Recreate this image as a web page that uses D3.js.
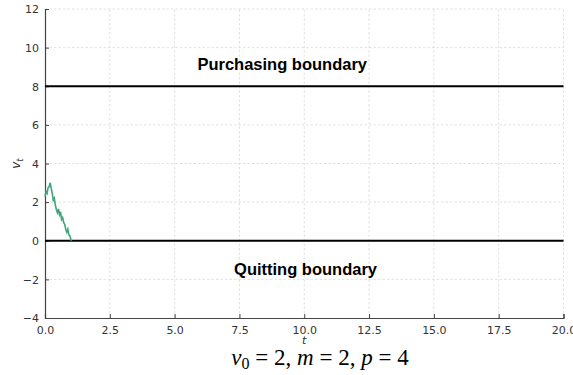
<!DOCTYPE html>
<html>
<head>
<meta charset="utf-8">
<script src="https://cdn.jsdelivr.net/npm/d3@7"></script>
<style>
  body { margin: 0; background: #fff; }
  svg { display: block; }
</style>
</head>
<body>
<div id="chart"></div>
<script>
// sample path of v_t
var pathT = [0, 0.04, 0.08, 0.12, 0.16, 0.2, 0.24, 0.28, 0.32, 0.36, 0.4, 0.44, 0.48,
             0.52, 0.56, 0.6, 0.64, 0.68, 0.72, 0.76, 0.8, 0.84, 0.88, 0.92, 0.96, 1.0, 1.02];
var pathV = [2.3, 2.55, 2.45, 2.75, 2.8, 3.0, 2.7, 2.45, 2.1, 2.2, 1.85, 1.6, 1.45,
             1.65, 1.35, 1.5, 1.1, 1.2, 0.95, 0.85, 0.6, 0.45, 0.6, 0.3, 0.25, 0.05, 0.0];

var boundaryNames = ['Purchasing boundary', 'Quitting boundary'];
var boundaryValues = [8, 0];

var xTicks = [0, 2.5, 5, 7.5, 10, 12.5, 15, 17.5, 20];
var yTicks = [-4, -2, 0, 2, 4, 6, 8, 10, 12];

var width = 573, height = 375;
var margin = { top: 9, right: 9.5, bottom: 57, left: 45 };

var svg = d3.select('#chart')
  .append('svg')
    .attr('width', width)
    .attr('height', height);

var x = d3.scaleLinear()
  .domain([0, 20])
  .range([margin.left, width - margin.right]);

var y = d3.scaleLinear()
  .domain([-4, 12])
  .range([height - margin.bottom, margin.top]);

// grid
var grid = svg.append('g');
grid.selectAll('line.gx')
  .data(xTicks.slice(1))
  .enter().append('line')
    .attr('x1', function(d) { return x(d); })
    .attr('x2', function(d) { return x(d); })
    .attr('y1', y(-4))
    .attr('y2', y(12))
    .attr('stroke', '#d9d9d9')
    .attr('stroke-width', 0.8)
    .attr('stroke-dasharray', '2.5,2');
grid.selectAll('line.gy')
  .data(yTicks.slice(1))
  .enter().append('line')
    .attr('x1', x(0))
    .attr('x2', x(20))
    .attr('y1', function(d) { return y(d); })
    .attr('y2', function(d) { return y(d); })
    .attr('stroke', '#d9d9d9')
    .attr('stroke-width', 0.8)
    .attr('stroke-dasharray', '2.5,2');

// axes
var xAxis = d3.axisBottom(x)
  .tickValues(xTicks)
  .tickSize(-4)
  .tickPadding(6)
  .tickFormat(d3.format('.1f'));
var yAxis = d3.axisLeft(y)
  .tickValues(yTicks)
  .tickSize(-4)
  .tickPadding(6)
  .tickFormat(function(d) { return d < 0 ? '\u2212' + Math.abs(d) : d; });

var gx = svg.append('g')
  .attr('transform', 'translate(0,' + y(-4) + ')')
  .call(xAxis);
var gy = svg.append('g')
  .attr('transform', 'translate(' + x(0) + ',0)')
  .call(yAxis);

[gx, gy].forEach(function(g) {
  g.select('.domain').attr('stroke', '#444').attr('stroke-width', 1.2);
  g.selectAll('.tick line').attr('stroke', '#444');
  g.selectAll('.tick text')
    .attr('fill', '#333')
    .style('font-family', 'DejaVu Sans')
    .style('font-size', '11px');
});
gx.selectAll('.tick text').attr('dy', '0.95em');
gy.selectAll('.tick text').attr('dy', '0.35em');

// boundaries
svg.selectAll('line.boundary')
  .data(boundaryValues)
  .enter().append('line')
    .attr('class', 'boundary')
    .attr('x1', x(0))
    .attr('x2', x(20))
    .attr('y1', function(d) { return y(d); })
    .attr('y2', function(d) { return y(d); })
    .attr('stroke', '#000')
    .attr('stroke-width', 1.8);

// path
var pts = pathT.map(function(t, i) { return [t, pathV[i]]; });
svg.append('path')
  .datum(pts)
  .attr('fill', 'none')
  .attr('stroke', '#3ea57c')
  .attr('stroke-width', 1.6)
  .attr('d', d3.line()
    .x(function(d) { return x(d[0]); })
    .y(function(d) { return y(d[1]); }));

// boundary labels
var labelPos = [[9.15, 8.86], [10.05, -1.75]];
svg.selectAll('text.blabel')
  .data(boundaryNames)
  .enter().append('text')
    .attr('x', function(d, i) { return x(labelPos[i][0]); })
    .attr('y', function(d, i) { return y(labelPos[i][1]); })
    .attr('text-anchor', 'middle')
    .style('font-family', 'Liberation Sans, Arial, sans-serif')
    .style('font-weight', 'bold')
    .style('font-size', '16.5px')
    .text(function(d) { return d; });

// axis labels
svg.append('text')
  .attr('x', x(10))
  .attr('y', 344)
  .attr('text-anchor', 'middle')
  .style('font-family', 'DejaVu Sans')
  .style('font-style', 'italic')
  .style('font-size', '11px')
  .attr('fill', '#333')
  .text('t');

var yl = svg.append('text')
  .attr('transform', 'translate(20,' + y(4) + ') rotate(-90)')
  .attr('text-anchor', 'middle')
  .style('font-family', 'DejaVu Sans')
  .style('font-size', '12px')
  .attr('fill', '#333');
yl.append('tspan').style('font-style', 'italic').text('v');
yl.append('tspan').attr('dy', 3).style('font-size', '8.5px').style('font-style', 'italic').text('t');

// title
var title = svg.append('text')
  .attr('x', 320)
  .attr('y', 365)
  .attr('text-anchor', 'middle')
  .style('font-family', 'Liberation Serif, serif')
  .style('font-size', '23px')
  .attr('fill', '#000');
title.append('tspan').style('font-style', 'italic').text('v');
title.append('tspan').attr('dy', 4).style('font-size', '16px').text('0');
title.append('tspan').attr('dy', -4).text(' = 2, ');
title.append('tspan').style('font-style', 'italic').text('m');
title.append('tspan').text(' = 2, ');
title.append('tspan').style('font-style', 'italic').text('p');
title.append('tspan').text(' = 4');
</script>
</body>
</html>
